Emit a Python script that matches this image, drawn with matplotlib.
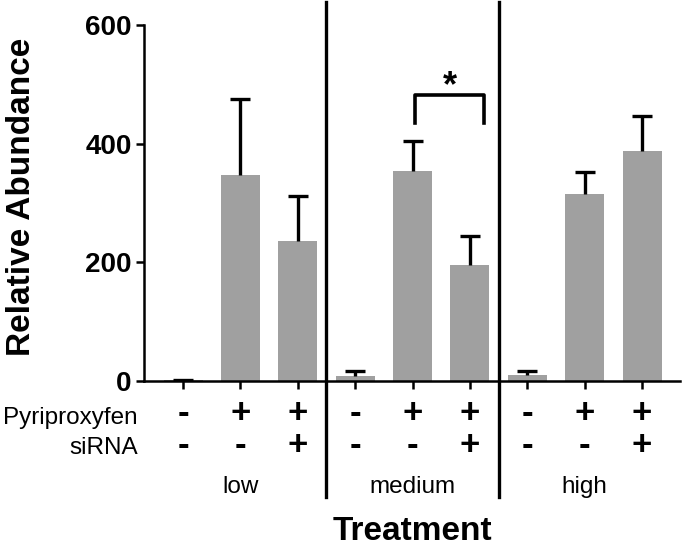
import matplotlib
matplotlib.use("Agg")
import matplotlib.pyplot as plt
import matplotlib.transforms as mtransforms
import numpy as np

# ---- data ----
groups = ["low", "medium", "high"]
pyriproxyfen = ["-", "+", "+", "-", "+", "+", "-", "+", "+"]
sirna = ["-", "-", "+", "-", "-", "+", "-", "-", "+"]
values = [1, 347, 236, 8, 354, 196, 10, 315, 388]
errors = [1, 129, 75, 9, 51, 48, 7, 37, 59]
yticks = [0, 200, 400, 600]
bracket_x = [4.05, 5.25]
bracket_y = [435, 482]
star_label = "*"

plt.rcParams['font.family'] = ['Liberation Sans', 'DejaVu Sans']

W, H = 685, 547
fig = plt.figure(figsize=(W / 100, H / 100), dpi=100)
ax = fig.add_axes([144 / W, (H - 381) / H, (680 - 144) / W, (381 - 25) / H])

x = np.arange(len(values))
ax.bar(x, values, width=0.68, color="#a0a0a0", zorder=2)
eb = ax.errorbar(x, values, yerr=[np.zeros(len(errors)), errors], fmt="none",
                 ecolor="black", elinewidth=2.4, capsize=7, capthick=2.4, zorder=3)
# keep only the upper caps
caps = eb[1]
if len(caps) == 2:
    caps[0].set_visible(False)

ax.set_xlim(-0.68, len(values) - 1 + 0.66)
ax.set_ylim(0, 600)
ax.set_yticks(yticks)
ax.set_yticklabels([str(t) for t in yticks], fontsize=20, fontweight="bold")
ax.set_xticks(x)
ax.set_xticklabels([])
ax.tick_params(axis="y", length=6, width=1.8, pad=3)
ax.tick_params(axis="x", length=6, width=1.8, direction="out")
for s in ["top", "right"]:
    ax.spines[s].set_visible(False)
for s in ["left", "bottom"]:
    ax.spines[s].set_linewidth(1.8)

ax.set_ylabel("Relative Abundance", fontsize=24, fontweight="bold",
              ha="center", va="center")
ax.yaxis.set_label_coords((21.5 - 144) / 536, (381 - 196.5) / 356)

# separator lines
trans_xfig = mtransforms.blended_transform_factory(ax.transData, fig.transFigure)
for sx in [2.5, 5.5]:
    ax.plot([sx, sx], [1 - 2 / H, 1 - 497 / H], color="black", lw=2.4,
            transform=trans_xfig, clip_on=False, zorder=5)

# significance bracket
ax.plot([bracket_x[0], bracket_x[0], bracket_x[1], bracket_x[1]],
        [bracket_y[0], bracket_y[1], bracket_y[1], bracket_y[0]],
        color="black", lw=2.6, clip_on=False, zorder=4)
ax.text(np.mean(bracket_x), 496, star_label, ha="center", va="center",
        fontsize=26, fontweight="bold")

# table of +/- signs
row1_y = 1 - 413 / H
row2_y = 1 - 445 / H
for i in x:
    ax.text(i, row1_y, pyriproxyfen[i], transform=trans_xfig, ha="center",
            va="center", fontsize=25, fontweight="bold")
    ax.text(i, row2_y, sirna[i], transform=trans_xfig, ha="center",
            va="center", fontsize=25, fontweight="bold")

fig.text(138 / W, 1 - 418 / H, "Pyriproxyfen", ha="right", va="center", fontsize=17.5)
fig.text(138 / W, 1 - 448 / H, "siRNA", ha="right", va="center", fontsize=17.5)

for gi, g in enumerate(groups):
    ax.text(gi * 3 + 1, 1 - 487 / H, g, transform=trans_xfig, ha="center",
            va="center", fontsize=17.5)

fig.text((144 + 680) / 2 / W, 1 - 531 / H, "Treatment", ha="center", va="center",
         fontsize=24, fontweight="bold")

fig.savefig("out.png", dpi=100)
